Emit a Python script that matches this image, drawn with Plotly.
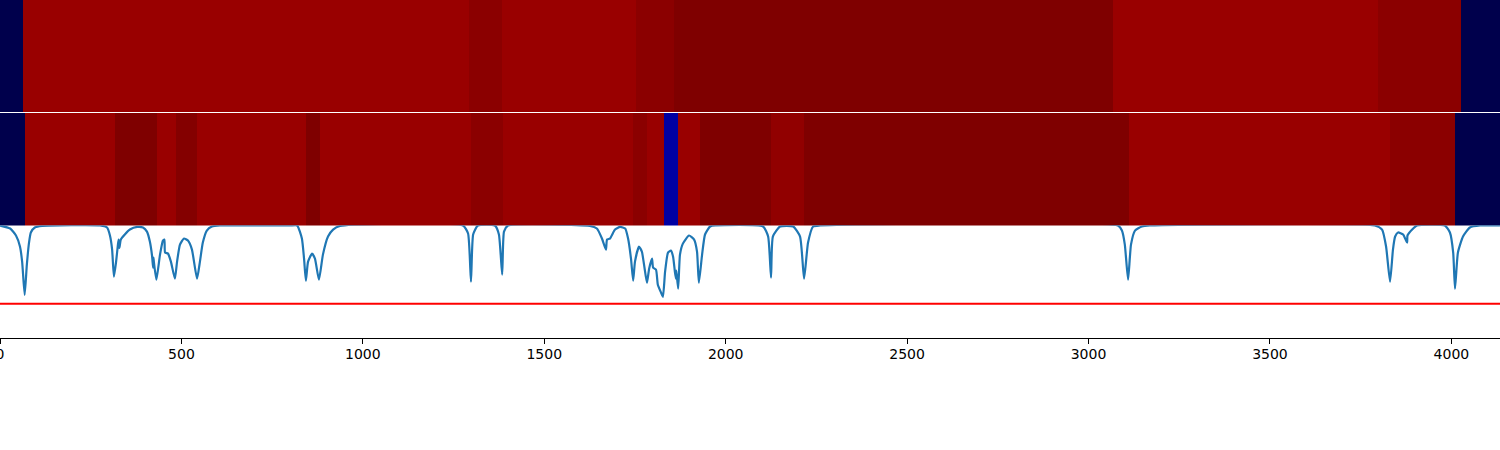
import plotly.graph_objects as go

# Segment edges and class values of the two strips
top_edges = [0, 63, 1293, 1384, 1753, 1858, 3068, 3798, 4027, 4134]
top_values = [0, 0.95, 0.977, 0.95, 0.977, 1, 0.95, 0.977, 0]
mid_edges = [0, 69, 317, 433, 485, 543, 843, 882, 1298, 1386, 1745, 1783, 1830, 1869, 1929, 2125, 2216, 3112, 3831, 4010, 4134]
mid_values = [0, 0.95, 1, 0.95, 0.99, 0.95, 1, 0.95, 0.977, 0.95, 0.977, 0.95, 0.12, 0.95, 1, 0.965, 1, 0.95, 0.977, 0]

# Confidence curve and threshold
curve_x = [0, 28, 44, 55, 61, 68, 74, 80, 85, 96, 116, 276, 295, 303, 309, 314, 320, 325, 327, 329, 333, 344, 358, 378,
           394, 405, 413, 419, 422, 423, 424, 431, 441, 449, 453, 455, 463, 471, 482, 488, 496, 507, 518, 529, 543,
           551, 559, 570, 584, 606,
           799, 819, 832, 838, 843, 849, 860, 868, 879, 890, 904, 918, 937,
           1276, 1290, 1298, 1304, 1317, 1364, 1375, 1384, 1389, 1400,
           1626, 1645, 1659, 1670, 1673, 1681, 1695, 1709, 1723, 1731, 1739, 1745, 1750, 1761, 1769, 1775, 1783, 1789,
           1797, 1800, 1808, 1813, 1822, 1827, 1833, 1841, 1849, 1855, 1860, 1863, 1864, 1869, 1874, 1882, 1899, 1913,
           1921, 1926, 1935, 1943, 1957, 1971,
           2103, 2117, 2125, 2130, 2150, 2186, 2205, 2216, 2227, 2241, 2260,
           3081, 3092, 3100, 3109, 3117, 3128, 3147, 3169,
           3789, 3809, 3820, 3831, 3839, 3845, 3853, 3867, 3878, 3879, 3892, 3905,
           3982, 3996, 4005, 4010, 4018, 4032, 4051, 4079, 4134]
curve_y = [1.0, 0.973, 0.911, 0.813, 0.679, 0.384, 0.652, 0.848, 0.938, 0.982, 0.996, 1.0, 0.982, 0.911, 0.786, 0.545, 0.679, 0.83, 0.875, 0.80, 0.875, 0.92, 0.964, 0.987,
           0.982, 0.946, 0.857, 0.732, 0.625, 0.714, 0.679, 0.518, 0.741, 0.866, 0.875, 0.759, 0.75, 0.679, 0.527, 0.679, 0.83, 0.884, 0.866, 0.786, 0.527,
           0.679, 0.848, 0.955, 0.991, 1.0,
           1.0, 1.0, 0.884, 0.705, 0.509, 0.679, 0.75, 0.705, 0.518, 0.741, 0.902, 0.964, 0.996,
           1.0, 0.929, 0.5, 0.92, 1.0, 1.0, 0.92, 0.563, 0.946, 1.0,
           0.996, 0.973, 0.884, 0.786, 0.875, 0.884, 0.964, 0.987, 0.973, 0.884, 0.705, 0.509, 0.679, 0.813, 0.768, 0.652, 0.491, 0.616,
           0.705, 0.625, 0.607, 0.473, 0.402, 0.366, 0.589, 0.759, 0.777, 0.723, 0.589, 0.527, 0.598, 0.438, 0.741, 0.839, 0.911, 0.875,
           0.768, 0.491, 0.741, 0.92, 0.991, 1.0,
           0.991, 0.902, 0.536, 0.902, 0.991, 0.991, 0.902, 0.527, 0.848, 0.991, 1.0,
           1.0, 0.955, 0.83, 0.518, 0.83, 0.955, 0.991, 1.0,
           1.0, 0.964, 0.813, 0.5, 0.786, 0.902, 0.938, 0.92, 0.848, 0.911, 0.964, 1.0,
           1.0, 0.938, 0.759, 0.438, 0.759, 0.902, 0.982, 1.0, 1.0]
threshold_x = [0, 4134]
threshold_y = [0.305, 0.305]
tick_values = [0, 500, 1000, 1500, 2000, 2500, 3000, 3500, 4000]
tick_labels = ["0", "500", "1000", "1500", "2000", "2500", "3000", "3500", "4000"]

seismic = [[0, "rgb(0,0,76)"], [0.25, "rgb(0,0,255)"], [0.5, "rgb(255,255,255)"],
           [0.75, "rgb(255,0,0)"], [1, "rgb(127,0,0)"]]

fig = go.Figure()
for edges, values, ax in ((top_edges, top_values, "y"), (mid_edges, mid_values, "y2")):
    fig.add_trace(go.Heatmap(x=edges, y=[0, 1], z=[values], zmin=0, zmax=1, colorscale=seismic,
                             showscale=False, xaxis="x", yaxis=ax, hoverinfo="skip"))
fig.add_trace(go.Scatter(x=curve_x, y=curve_y, mode="lines",
                         line=dict(color="#1f77b4", width=2.2, shape="spline", smoothing=0.5),
                         xaxis="x", yaxis="y3", showlegend=False))
fig.add_trace(go.Scatter(x=threshold_x, y=threshold_y, mode="lines", line=dict(color="#ff0000", width=2),
                         xaxis="x", yaxis="y3", showlegend=False))

hidden = dict(range=[0, 1], showticklabels=False, ticks="", showgrid=False, zeroline=False,
              showline=True, linecolor="black", linewidth=1)
fig.update_layout(
    width=1500, height=450, margin=dict(l=0, r=0, t=0, b=0), autosize=False,
    paper_bgcolor="white", plot_bgcolor="white", showlegend=False,
    font=dict(family="DejaVu Sans", size=14, color="black"),
    xaxis=dict(range=[0, 4134], domain=[0, 1], anchor="y3", tickmode="array", tickvals=tick_values,
               ticktext=tick_labels, ticks="outside", ticklen=5, tickwidth=1, tickcolor="black",
               showgrid=False, zeroline=False, showline=True, linecolor="black", linewidth=1,
               ticklabeloverflow="allow", ticklabelstandoff=-2,
               tickfont=dict(family="DejaVu Sans", size=14, color="black"), automargin=False),
    yaxis=dict(domain=[0.7511, 1.0], anchor="x", **hidden),
    yaxis2=dict(domain=[0.4989, 0.7489], anchor="x", **hidden),
    yaxis3=dict(domain=[0.2489, 0.4989], anchor="x", **hidden),
)
fig.write_html("out.html", config={"displayModeBar": False},
               post_script="document.body.style.margin='0';")
